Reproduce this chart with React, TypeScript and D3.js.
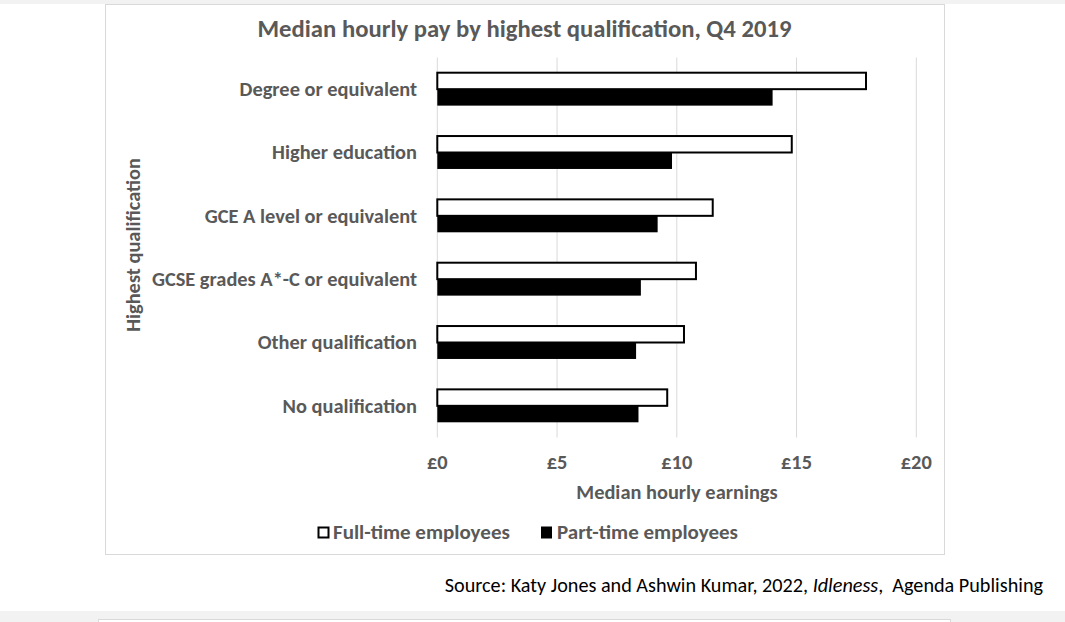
import { useMemo } from 'react';
import * as d3 from 'd3';

const categories = [
  'Degree or equivalent',
  'Higher education',
  'GCE A level or equivalent',
  'GCSE grades A*-C or equivalent',
  'Other qualification',
  'No qualification',
];
const fullTime = [17.9, 14.8, 11.5, 10.8, 10.3, 9.6];
const partTime = [14.0, 9.8, 9.2, 8.5, 8.3, 8.4];
const xTicks = [0, 5, 10, 15, 20];
const seriesNames = ['Full-time employees', 'Part-time employees'];

const W = 1065;
const H = 622;
const FONT = 'Calibri, Carlito, Lato, sans-serif';
const TEXT = '#595959';
const LABEL = 20.4;

export default function App() {
  const x = useMemo(() => d3.scaleLinear().domain([0, 20]).range([437.3, 916.3]), []);
  const y = useMemo(
    () => d3.scaleBand<string>().domain(categories).range([57.5, 437.5]).paddingInner(0.48).paddingOuter(0.24),
    []
  );
  const inner = useMemo(
    () => d3.scaleBand<string>().domain(['ft', 'pt']).range([0, y.bandwidth()]),
    [y]
  );

  return (
    <svg
      width={W}
      height={H}
      viewBox={`0 0 ${W} ${H}`}
      style={{ position: 'absolute', left: 0, top: 0, background: '#ffffff' }}
    >
      {/* page strips */}
      <rect x={0} y={0} width={W} height={4} fill="#f2f2f2" />
      <rect x={0} y={611} width={W} height={11} fill="#f2f2f2" />
      <rect x={98.5} y={619.5} width={852} height={20} fill="#ffffff" stroke="#d9d9d9" />

      {/* chart panel */}
      <rect x={105.5} y={4.5} width={839} height={550} fill="#ffffff" stroke="#d9d9d9" />

      <text x={524.5} y={37} textAnchor="middle" fontFamily={FONT} fontWeight={700} fontSize={24.7} fill={TEXT}>
        Median hourly pay by highest qualification, Q4 2019
      </text>

      {/* gridlines */}
      {xTicks.map((t) => (
        <line key={t} x1={x(t)} x2={x(t)} y1={57.5} y2={437.5} stroke="#d9d9d9" strokeWidth={1} />
      ))}

      {/* bars */}
      {categories.map((c, i) => {
        const y0 = y(c) ?? 0;
        return (
          <g key={c}>
            <rect
              x={x(0)}
              y={y0 + (inner('ft') ?? 0)}
              width={x(fullTime[i]) - x(0)}
              height={inner.bandwidth()}
              fill="#ffffff"
              stroke="#000000"
              strokeWidth={2}
            />
            <rect
              x={x(0)}
              y={y0 + (inner('pt') ?? 0)}
              width={x(partTime[i]) - x(0)}
              height={inner.bandwidth()}
              fill="#000000"
            />
            <text
              x={417}
              y={y0 + y.bandwidth() / 2}
              dy="0.33em"
              textAnchor="end"
              fontFamily={FONT}
              fontWeight={700}
              fontSize={LABEL}
              fill={TEXT}
            >
              {c}
            </text>
          </g>
        );
      })}

      {/* x tick labels */}
      {xTicks.map((t) => (
        <text
          key={t}
          x={x(t)}
          y={469}
          textAnchor="middle"
          fontFamily={FONT}
          fontWeight={700}
          fontSize={LABEL}
          fill={TEXT}
        >
          {`£${t}`}
        </text>
      ))}

      <text x={677} y={499} textAnchor="middle" fontFamily={FONT} fontWeight={700} fontSize={LABEL} fill={TEXT}>
        Median hourly earnings
      </text>

      <text
        transform="translate(140, 245) rotate(-90)"
        textAnchor="middle"
        fontFamily={FONT}
        fontWeight={700}
        fontSize={LABEL}
        fill={TEXT}
      >
        Highest qualification
      </text>

      {/* legend */}
      <rect x={318.5} y={527.5} width={10} height={10} fill="#ffffff" stroke="#000000" strokeWidth={2} />
      <text x={333} y={539} fontFamily={FONT} fontWeight={700} fontSize={21} fill={TEXT}>
        {seriesNames[0]}
      </text>
      <rect x={541} y={526.5} width={11} height={12} fill="#000000" />
      <text x={557} y={539} fontFamily={FONT} fontWeight={700} fontSize={21} fill={TEXT}>
        {seriesNames[1]}
      </text>

      {/* source */}
      <text x={1043} y={592} textAnchor="end" fontFamily={FONT} fontSize={20.2} fill="#000000">
        Source: Katy Jones and Ashwin Kumar, 2022, <tspan fontStyle="italic">Idleness</tspan>,{'\u00a0\u00a0'}Agenda
        Publishing
      </text>
    </svg>
  );
}
